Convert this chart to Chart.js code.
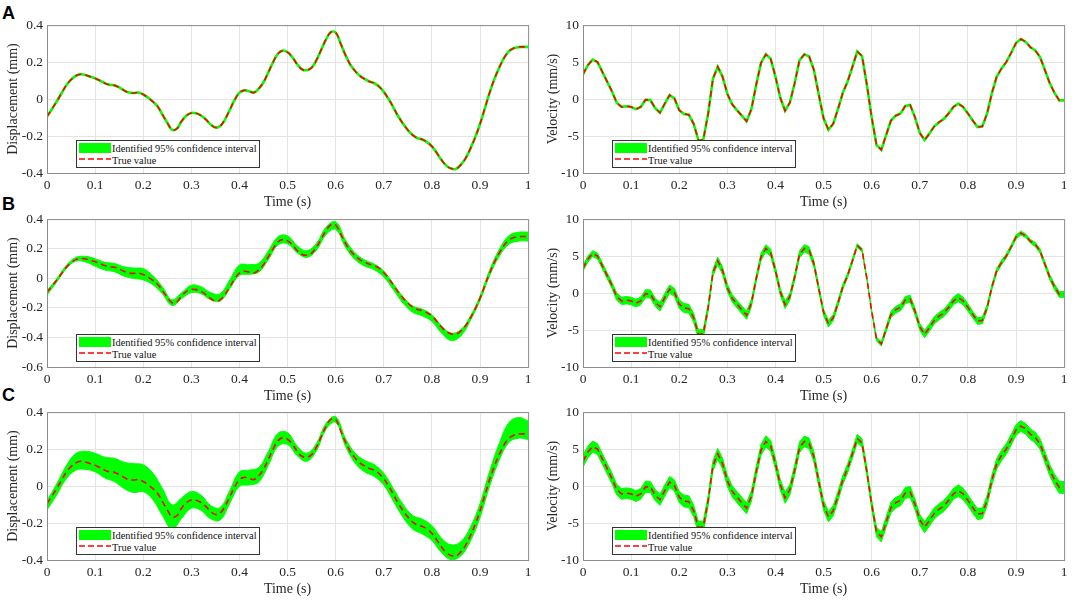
<!DOCTYPE html>
<html>
<head>
<meta charset="utf-8">
<script src="https://cdn.jsdelivr.net/npm/chart.js@4/dist/chart.umd.min.js"></script>
<style>
  body { margin: 0; background: #fff; width: 1072px; height: 600px; position: relative; overflow: hidden; font-family: 'Liberation Serif', 'Times New Roman', serif; }
  .panel { position: absolute; width: 536px; height: 200px; }
  .tag { position: absolute; left: 2px; font: bold 18px/18px 'Liberation Sans', Arial, sans-serif; color: #000; }
  .legend { position: absolute; width: 184px; height: 28px; box-sizing: border-box; border: 1px solid #333; background: #fff; font-size: 10.4px; color: #111; }
  .legend .swatch { position: absolute; left: 2px; top: 2px; width: 32px; height: 10px; background: #00ff00; }
  .legend svg { position: absolute; left: 2px; top: 16px; }
  .legend .txt { position: absolute; left: 35px; line-height: 13px; white-space: nowrap; }
</style>
</head>
<body>
<div class="tag" style="top:4px">A</div>
<div class="tag" style="top:195px">B</div>
<div class="tag" style="top:386px">C</div>

<script>
// Sample times (s), 0.01 s grid
const time = Array.from({ length: 101 }, (_, i) => i / 100);
const timeTicks = [0, 0.1, 0.2, 0.3, 0.4, 0.5, 0.6, 0.7, 0.8, 0.9, 1];
const dispTicksAC = [-0.4, -0.2, 0, 0.2, 0.4];
const dispTicksB = [-0.6, -0.4, -0.2, 0, 0.2, 0.4];
const velTicks = [-10, -5, 0, 5, 10];

// True displacement (mm)
const dispTrue = [
  -0.095, -0.055, -0.014, 0.030, 0.074, 0.105, 0.126, 0.134, 0.130, 0.121,
  0.112, 0.100, 0.086, 0.077, 0.074, 0.063, 0.047, 0.035, 0.033, 0.035,
  0.025, 0.007, -0.014, -0.040, -0.084, -0.128, -0.166, -0.160, -0.119, -0.089,
  -0.075, -0.077, -0.089, -0.110, -0.137, -0.154, -0.146, -0.110, -0.058, -0.005,
  0.035, 0.047, 0.042, 0.035, 0.056, 0.091, 0.144, 0.200, 0.245, 0.262,
  0.253, 0.226, 0.188, 0.161, 0.156, 0.170, 0.210, 0.267, 0.323, 0.362,
  0.360, 0.302, 0.240, 0.188, 0.153, 0.126, 0.109, 0.095, 0.086, 0.068,
  0.039, 0.000, -0.046, -0.093, -0.133, -0.168, -0.195, -0.211, -0.219, -0.233,
  -0.256, -0.291, -0.330, -0.360, -0.376, -0.378, -0.356, -0.321, -0.268, -0.207,
  -0.135, -0.050, 0.035, 0.109, 0.170, 0.223, 0.258, 0.275, 0.281, 0.282,
  0.282
];

// True velocity (mm/s)
const velTrue = [
  3.35, 4.58, 5.33, 5.02, 3.70, 2.38, 1.06, -0.48, -1.06, -0.97,
  -1.06, -1.37, -1.06, -0.09, -0.13, -1.23, -1.85, -0.62, 0.53, 0.09,
  -1.50, -2.03, -2.11, -3.35, -5.60, -5.50, -2.03, 2.73, 4.36, 3.04,
  0.70, -0.70, -1.50, -2.25, -3.00, -1.37, 1.94, 4.89, 6.04, 5.46,
  3.04, 0.18, -1.59, -0.48, 2.16, 5.24, 6.04, 5.77, 3.92, 0.62,
  -2.60, -4.14, -3.35, -1.37, 0.84, 2.38, 4.36, 6.43, 5.81, 1.94,
  -2.47, -6.21, -6.87, -4.89, -2.91, -2.25, -1.94, -0.93, -0.79, -2.47,
  -4.58, -5.55, -4.67, -3.70, -3.13, -2.69, -1.94, -1.06, -0.62, -1.06,
  -1.94, -2.91, -3.79, -3.70, -1.94, 0.84, 3.04, 4.14, 5.02, 6.26,
  7.58, 8.11, 7.75, 7.00, 6.56, 5.68, 3.92, 2.16, 0.84, -0.18,
  -0.18
];

// Displacement band offsets above / below true value, every 0.02 s
const dispUpB = [
  0.010, 0.010, 0.012, 0.015, 0.018, 0.020, 0.022, 0.026, 0.030, 0.036,
  0.040, 0.032, 0.025, 0.020, 0.022, 0.028, 0.032, 0.040, 0.042, 0.048,
  0.055, 0.050, 0.045, 0.040, 0.036, 0.034, 0.032, 0.030, 0.026, 0.022,
  0.022, 0.022, 0.020, 0.015, 0.010, 0.010, 0.008, 0.008, 0.008, 0.010,
  0.010, 0.008, 0.005, 0.008, 0.012, 0.015, 0.020, 0.025, 0.030, 0.030,
  0.030
];
const dispDnB = [
  0.020, 0.012, 0.010, 0.010, 0.020, 0.030, 0.030, 0.030, 0.032, 0.034,
  0.036, 0.030, 0.022, 0.018, 0.018, 0.022, 0.015, 0.008, 0.008, 0.012,
  0.015, 0.015, 0.015, 0.018, 0.020, 0.020, 0.016, 0.015, 0.020, 0.028,
  0.030, 0.028, 0.026, 0.026, 0.028, 0.030, 0.032, 0.035, 0.035, 0.035,
  0.036, 0.040, 0.045, 0.035, 0.018, 0.015, 0.018, 0.022, 0.028, 0.030,
  0.030
];
const dispUpC = [
  0.015, 0.025, 0.035, 0.050, 0.058, 0.065, 0.070, 0.076, 0.082, 0.088,
  0.090, 0.084, 0.070, 0.065, 0.055, 0.045, 0.040, 0.032, 0.030, 0.035,
  0.042, 0.044, 0.044, 0.042, 0.040, 0.036, 0.028, 0.022, 0.020, 0.016,
  0.015, 0.020, 0.026, 0.030, 0.030, 0.030, 0.032, 0.034, 0.036, 0.040,
  0.042, 0.048, 0.058, 0.055, 0.045, 0.040, 0.045, 0.060, 0.085, 0.090,
  0.070
];
const dispDnC = [
  0.035, 0.035, 0.035, 0.040, 0.040, 0.035, 0.042, 0.050, 0.060, 0.068,
  0.055, 0.060, 0.075, 0.067, 0.055, 0.045, 0.042, 0.040, 0.038, 0.035,
  0.036, 0.036, 0.035, 0.032, 0.030, 0.028, 0.024, 0.022, 0.020, 0.016,
  0.016, 0.022, 0.028, 0.032, 0.034, 0.034, 0.036, 0.036, 0.038, 0.040,
  0.038, 0.030, 0.022, 0.022, 0.030, 0.035, 0.035, 0.030, 0.022, 0.022,
  0.030
];

// Velocity band half-widths (mm/s), every 0.01 s
const velHalfB = [
  0.40, 0.40, 0.40, 0.40, 0.40, 0.40, 0.42, 0.48, 0.50, 0.50,
  0.50, 0.52, 0.52, 0.55, 0.55, 0.55, 0.58, 0.58, 0.55, 0.55,
  0.58, 0.60, 0.60, 0.60, 0.62, 0.60, 0.50, 0.45, 0.50, 0.50,
  0.50, 0.50, 0.52, 0.52, 0.55, 0.50, 0.45, 0.48, 0.50, 0.50,
  0.48, 0.48, 0.50, 0.48, 0.45, 0.48, 0.50, 0.50, 0.45, 0.42,
  0.42, 0.45, 0.42, 0.40, 0.35, 0.32, 0.30, 0.25, 0.22, 0.20,
  0.20, 0.25, 0.30, 0.38, 0.42, 0.45, 0.45, 0.48, 0.48, 0.45,
  0.45, 0.50, 0.50, 0.50, 0.50, 0.50, 0.50, 0.52, 0.55, 0.52,
  0.50, 0.45, 0.45, 0.45, 0.40, 0.35, 0.30, 0.30, 0.28, 0.28,
  0.28, 0.25, 0.25, 0.25, 0.28, 0.30, 0.32, 0.35, 0.38, 0.40,
  0.40
];
const velHalfC = [
  0.80, 0.78, 0.75, 0.72, 0.72, 0.72, 0.72, 0.72, 0.72, 0.72,
  0.72, 0.72, 0.72, 0.75, 0.75, 0.75, 0.75, 0.75, 0.75, 0.75,
  0.75, 0.80, 0.80, 0.80, 0.80, 0.78, 0.70, 0.68, 0.72, 0.75,
  0.75, 0.75, 0.75, 0.75, 0.75, 0.72, 0.70, 0.72, 0.75, 0.75,
  0.72, 0.72, 0.75, 0.72, 0.70, 0.72, 0.72, 0.72, 0.70, 0.68,
  0.68, 0.70, 0.70, 0.65, 0.62, 0.60, 0.60, 0.58, 0.58, 0.60,
  0.62, 0.65, 0.68, 0.70, 0.72, 0.72, 0.72, 0.75, 0.75, 0.72,
  0.72, 0.75, 0.75, 0.75, 0.75, 0.75, 0.75, 0.75, 0.78, 0.78,
  0.75, 0.75, 0.75, 0.72, 0.70, 0.68, 0.70, 0.72, 0.72, 0.72,
  0.72, 0.72, 0.72, 0.72, 0.72, 0.72, 0.75, 0.75, 0.78, 0.80,
  0.80
];

const GREEN = '#00ff00';
const RED = '#ff0000';
const INK = '#262626';

Chart.defaults.font.family = "'Liberation Serif', 'Times New Roman', serif";
Chart.defaults.color = INK;

const pts = (xs, ys) => xs.map((x, i) => ({ x, y: ys[i] }));

function truthLine(vals, tension) {
  return { data: pts(time, vals), borderColor: RED, borderWidth: 1.6, borderDash: [6, 4],
           pointRadius: 0, tension, fill: false };
}

function thinBand(vals, tension) {
  return { data: pts(time, vals), borderColor: GREEN, borderWidth: 2.6, pointRadius: 0, tension, fill: false };
}

function bandPair(xs, lo, hi, tension) {
  const base = { pointRadius: 0, borderColor: GREEN, backgroundColor: GREEN, borderWidth: 1, tension };
  return [
    { ...base, data: pts(xs, lo), fill: false },
    { ...base, data: pts(xs, hi), fill: '-1' }
  ];
}

function dispBand(up, dn) {
  const idx = up.map((_, i) => i * 2);
  const xs = idx.map(k => time[k]);
  return bandPair(xs, idx.map((k, i) => dispTrue[k] - dn[i]), idx.map((k, i) => dispTrue[k] + up[i]), 0.4);
}

function velBand(half) {
  return bandPair(time, velTrue.map((v, i) => v - half[i]), velTrue.map((v, i) => v + half[i]), 0);
}

// Box around the plot area
const frame = {
  id: 'frame',
  afterDatasetsDraw(chart) {
    const { ctx, chartArea: a } = chart;
    ctx.save();
    ctx.strokeStyle = '#8c8c8c';
    ctx.lineWidth = 1;
    ctx.strokeRect(a.left + 0.5, a.top + 0.5, a.right - a.left, a.bottom - a.top);
    ctx.restore();
  }
};

const panels = [
  { left: 0,   top: 13,  kind: 'disp', yTicks: dispTicksAC, band: null },
  { left: 536, top: 13,  kind: 'vel',  yTicks: velTicks,    band: null },
  { left: 0,   top: 207, kind: 'disp', yTicks: dispTicksB,  band: [dispUpB, dispDnB] },
  { left: 536, top: 207, kind: 'vel',  yTicks: velTicks,    band: velHalfB },
  { left: 0,   top: 400, kind: 'disp', yTicks: dispTicksAC, band: [dispUpC, dispDnC] },
  { left: 536, top: 400, kind: 'vel',  yTicks: velTicks,    band: velHalfC }
];

function addLegend(p) {
  const box = document.createElement('div');
  box.className = 'legend';
  box.style.left = (p.left + 47 + 29) + 'px';
  box.style.top = (p.top + 10 + 117) + 'px';
  box.innerHTML = `
    <div class="swatch"></div>
    <div class="txt" style="top:0.5px">Identified 95% confidence interval</div>
    <svg width="32" height="4"><line x1="0" y1="2" x2="32" y2="2" stroke="${RED}" stroke-width="1.4" stroke-dasharray="6 3"/></svg>
    <div class="txt" style="top:13px">True value</div>`;
  document.body.appendChild(box);
}

panels.forEach((p, n) => {
  const wrap = document.createElement('div');
  wrap.className = 'panel';
  wrap.style.left = p.left + 'px';
  wrap.style.top = p.top + 'px';
  const canvas = document.createElement('canvas');
  wrap.appendChild(canvas);
  document.body.appendChild(wrap);

  const isDisp = p.kind === 'disp';
  const vals = isDisp ? dispTrue : velTrue;
  const tension = isDisp ? 0.4 : 0;

  const datasets = [truthLine(vals, tension)];
  if (!p.band) datasets.push(thinBand(vals, tension));
  else if (isDisp) datasets.push(...dispBand(p.band[0], p.band[1]));
  else datasets.push(...velBand(p.band));

  const yMin = p.yTicks[0], yMax = p.yTicks[p.yTicks.length - 1];

  new Chart(canvas, {
    type: 'line',
    data: { datasets },
    options: {
      responsive: true,
      maintainAspectRatio: false,
      animation: false,
      events: [],
      layout: { padding: { top: 10, right: 6, left: 0, bottom: 0 } },
      plugins: { legend: { display: false }, tooltip: { enabled: false } },
      scales: {
        x: {
          type: 'linear', min: 0, max: 1,
          afterBuildTicks: s => { s.ticks = timeTicks.map(v => ({ value: v })); },
          afterFit: s => { s.height = 40; },
          ticks: { callback: v => String(v), font: { size: 13.5 }, color: INK, padding: 4.5, maxRotation: 0, autoSkip: false },
          grid: { color: '#e4e4e4', drawTicks: false },
          border: { display: false },
          title: { display: true, text: 'Time (s)', font: { size: 14 }, color: INK, padding: { top: 0, bottom: 2.6 } }
        },
        y: {
          type: 'linear', min: yMin, max: yMax,
          afterBuildTicks: s => { s.ticks = p.yTicks.map(v => ({ value: v })); },
          afterFit: s => { s.width = 47; },
          ticks: { callback: v => String(v), font: { size: 13.5 }, color: INK, padding: 4, autoSkip: false },
          grid: { color: '#e4e4e4', drawTicks: false },
          border: { display: false },
          title: { display: true, text: isDisp ? 'Displacement (mm)' : 'Velocity (mm/s)', font: { size: 14 }, color: INK,
                   padding: { top: isDisp ? 4.9 : 8.9, bottom: 0 } }
        }
      }
    },
    plugins: [frame]
  });

  addLegend(p);
});
</script>
</body>
</html>
